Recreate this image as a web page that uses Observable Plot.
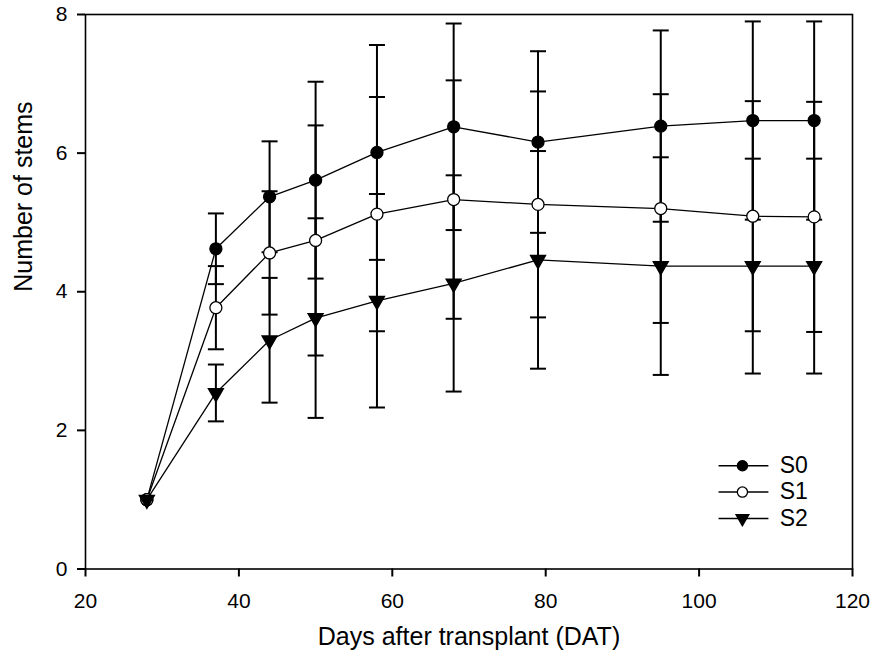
<!DOCTYPE html>
<html><head><meta charset="utf-8">
<script src="https://cdn.jsdelivr.net/npm/d3@7"></script>
<script src="https://cdn.jsdelivr.net/npm/@observablehq/plot@0.6"></script>
<style>
html,body{margin:0;padding:0;background:#fff;}
</style>
</head><body><div id="chart"></div>
<script>
// ---- data ----
const days = [28, 37, 44, 50, 58, 68, 79, 95, 107, 115];
const seriesNames = ["S0", "S1", "S2"];
const s0Mean = [1.0, 4.62, 5.37, 5.61, 6.01, 6.38, 6.16, 6.39, 6.47, 6.47];
const s0Sd   = [0,   0.51, 0.80, 1.42, 1.55, 1.49, 1.31, 1.38, 1.43, 1.43];
const s1Mean = [1.0, 3.77, 4.56, 4.74, 5.12, 5.33, 5.26, 5.20, 5.09, 5.08];
const s1Sd   = [0,   0.60, 0.89, 1.66, 1.69, 1.72, 1.63, 1.65, 1.66, 1.66];
const s2Mean = [1.0, 2.54, 3.30, 3.62, 3.87, 4.12, 4.46, 4.37, 4.37, 4.37];
const s2Sd   = [0,   0.41, 0.90, 1.44, 1.54, 1.56, 1.57, 1.57, 1.55, 1.55];
const xTicks = [20, 40, 60, 80, 100, 120];
const yTicks = [0, 2, 4, 6, 8];
const xLabel = "Days after transplant (DAT)";
const yLabel = "Number of stems";

// ---- build table ----
const means = [s0Mean, s1Mean, s2Mean];
const sds = [s0Sd, s1Sd, s2Sd];
const rows = [];
seriesNames.forEach((name, si) => days.forEach((d, i) =>
  rows.push({series: name, day: d, mean: means[si][i], sd: sds[si][i]})));
const errRows = rows.filter(r => r.sd > 0);

const styles = {
  S0: {symbol: "circle", fill: "black", r: 6, rotate: 0},
  S1: {symbol: "circle", fill: "white", r: 6, rotate: 0},
  S2: {symbol: "triangle", fill: "black", r: 5.6, rotate: 180}
};

const capSymbol = {
  draw(ctx, size) {
    const w = Math.sqrt(size / Math.PI);
    ctx.moveTo(-w, 0); ctx.lineTo(w, 0);
  }
};

const legendRows = seriesNames.map((s, i) => ({series: s, ly: 1.49 - 0.38 * i}));

const font = "'Liberation Sans', Arial, sans-serif";

const markerMarks = (data, rScale, xAcc, yAcc) => seriesNames.map(s => Plot.dot(
  data.filter(d => d.series === s), {
    x: xAcc, y: yAcc,
    symbol: styles[s].symbol,
    r: styles[s].r * rScale,
    rotate: styles[s].rotate,
    fill: styles[s].fill,
    stroke: "black",
    strokeWidth: 1.3
  }));

const chart = Plot.plot({
  width: 872,
  height: 663,
  marginLeft: 85,
  marginRight: 20,
  marginTop: 14,
  marginBottom: 94.5,
  style: {fontFamily: font, background: "white", color: "black"},
  x: {domain: [20, 120], label: null},
  y: {domain: [0, 8], label: null},
  marks: [
    Plot.frame({stroke: "black", strokeWidth: 1.6}),
    Plot.axisX(xTicks, {tickSize: 8, tickPadding: 16, fontSize: 21, strokeWidth: 2, label: null, fontFamily: font, tickFormat: d => String(d)}),
    Plot.axisY(yTicks, {tickSize: 8, tickPadding: 10, fontSize: 21, strokeWidth: 2, label: null, fontFamily: font, tickFormat: d => String(d)}),
    // error bars
    Plot.ruleX(errRows, {x: "day", y1: d => d.mean - d.sd, y2: d => d.mean + d.sd, stroke: "black", strokeWidth: 2}),
    Plot.dot(errRows, {x: "day", y: d => d.mean + d.sd, symbol: capSymbol, r: 8, stroke: "black", strokeWidth: 2}),
    Plot.dot(errRows, {x: "day", y: d => d.mean - d.sd, symbol: capSymbol, r: 8, stroke: "black", strokeWidth: 2}),
    // lines
    Plot.line(rows, {x: "day", y: "mean", z: "series", stroke: "black", strokeWidth: 1.3}),
    // markers
    ...markerMarks(rows, 1, "day", "mean"),
    // legend
    Plot.ruleY(legendRows, {y: "ly", x1: () => 102.6, x2: () => 109.1, stroke: "black", strokeWidth: 1.5}),
    ...markerMarks(legendRows, 0.85, () => 105.65, "ly"),
    Plot.text(legendRows, {x: () => 110.5, y: "ly", text: "series", textAnchor: "start", fontSize: 23, fill: "black", fontFamily: font}),
    // axis titles
    Plot.text([xLabel], {text: d => d, frameAnchor: "bottom", dy: 75.5, fontSize: 25, fill: "black", fontFamily: font}),
    Plot.text([yLabel], {text: d => d, frameAnchor: "left", rotate: -90, dx: -62, fontSize: 25, fill: "black", fontFamily: font})
  ]
});
document.getElementById("chart").appendChild(chart);
</script>
</body></html>
